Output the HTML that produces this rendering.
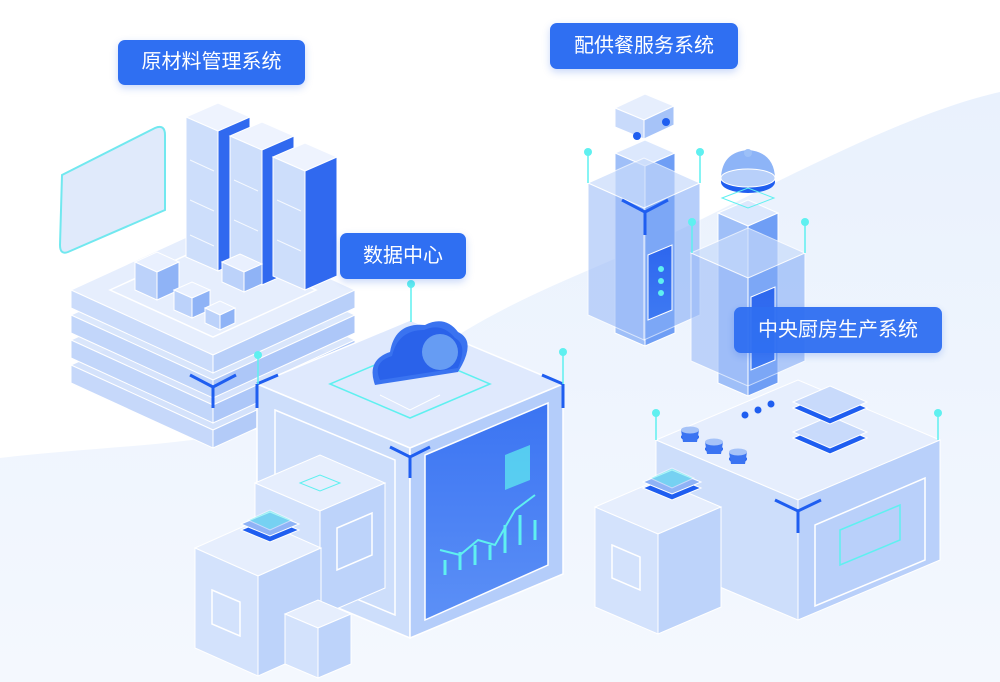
<!DOCTYPE html>
<html><head><meta charset="utf-8"><style>
html,body{margin:0;padding:0;background:#fff;}
.lbl{position:absolute;background:#2f6ff2;color:#fff;border-radius:7px;font-family:"Liberation Sans","Noto Sans CJK SC",sans-serif;font-size:20px;text-align:center;box-shadow:0 3px 8px rgba(40,100,230,.25);}
</style></head><body>
<div style="position:relative;width:1000px;height:682px;overflow:hidden;">
<svg width="1000" height="682" viewBox="0 0 1000 682" style="position:absolute;left:0;top:0">
<defs>
<linearGradient id="bg" x1="0" y1="0" x2="0" y2="1"><stop offset="0" stop-color="#e9f1fd"/><stop offset="1" stop-color="#f4f8fe"/></linearGradient>
<linearGradient id="pan" x1="0" y1="0" x2="0" y2="1"><stop offset="0" stop-color="#3b74f2"/><stop offset="1" stop-color="#5c90f6"/></linearGradient>
<linearGradient id="dk" x1="0" y1="0" x2="0" y2="1"><stop offset="0" stop-color="#2d66ee"/><stop offset="1" stop-color="#3e7af3"/></linearGradient>
</defs>
<path d="M0,458 C150,440 300,450 420,360 C520,290 600,270 700,220 C820,160 920,110 1000,92 L1000,682 L0,682 Z" fill="url(#bg)"/>

<path d="M62,175 L155,128 Q165,124 165,135 L165,210 L68,252 Q60,255 60,245 Z" fill="#dde8fb" stroke="#62e6ee" stroke-width="2" opacity=".9"/>

<g stroke="#fff" stroke-width="1">
<polygon points="71,365 213,300 355,365 213,430" fill="#d4e2fb"/><polygon points="71,365 213,430 213,448 71,383" fill="#c6d8fa"/><polygon points="213,430 355,365 355,383 213,448" fill="#b3cbf8"/>
<polygon points="71,340 213,275 355,340 213,405" fill="#d7e4fb" opacity=".9"/><polygon points="71,340 213,405 213,423 71,358" fill="#c2d6fa"/><polygon points="213,405 355,340 355,358 213,423" fill="#adc7f8"/>
<polygon points="71,315 213,250 355,315 213,380" fill="#d9e6fc" opacity=".9"/><polygon points="71,315 213,380 213,398 71,333" fill="#c2d6fa"/><polygon points="213,380 355,315 355,333 213,398" fill="#adc7f8"/>
<polygon points="71,290 213,225 355,290 213,355" fill="#e6eefd"/><polygon points="71,290 213,355 213,373 71,308" fill="#cbdcfb"/><polygon points="213,355 355,290 355,308 213,373" fill="#b8cff9"/>
</g>
<polygon points="110,290 213,243 316,290 213,337" fill="none" stroke="#fff" stroke-width="1.5"/>
<g stroke="#fff" stroke-width="1">
<polygon points="186,117 218,103 250,117 218,131" fill="#eef3fe"/><polygon points="186,117 218,131 218,271 186,257" fill="#cddefb"/><polygon points="218,131 250,117 250,257 218,271" fill="#3069ef"/>
<polygon points="230,136 262,122 294,136 262,150" fill="#eef3fe"/><polygon points="230,136 262,150 262,285 230,271" fill="#cddefb"/><polygon points="262,150 294,136 294,271 262,285" fill="#3069ef"/>
<polygon points="273,157 305,143 337,157 305,171" fill="#eef3fe"/><polygon points="273,157 305,171 305,290 273,276" fill="#cddefb"/><polygon points="305,171 337,157 337,276 305,290" fill="#3069ef"/>
</g>
<g stroke="#fff" fill="none" opacity=".8"><path d="M190,160 L214,171 M190,200 L214,211 M190,235 L214,246 M234,180 L258,191 M234,220 L258,231 M277,200 L301,211 M277,240 L301,251"/></g>
<g stroke="#fff">
<polygon points="135,262 157,252 179,262 157,272" fill="#e9f0fe"/><polygon points="135,262 157,272 157,300 135,290" fill="#bcd2fa"/><polygon points="157,272 179,262 179,290 157,300" fill="#8fb3f6"/>
<polygon points="174,290 192,282 210,290 192,298" fill="#e9f0fe"/><polygon points="174,290 192,298 192,318 174,310" fill="#bcd2fa"/><polygon points="192,298 210,290 210,310 192,318" fill="#8fb3f6"/>
<polygon points="205,308 220,301 235,308 220,315" fill="#e9f0fe"/><polygon points="205,308 220,315 220,330 205,323" fill="#bcd2fa"/><polygon points="220,315 235,308 235,323 220,330" fill="#8fb3f6"/>
<polygon points="222,262 240,254 262,264 244,272" fill="#e9f0fe"/><polygon points="222,262 244,272 244,292 222,282" fill="#bcd2fa"/><polygon points="244,272 262,264 262,284 244,292" fill="#8fb3f6"/>
</g>
<path d="M190,375 L213,387 L236,375 M213,387 L213,408" stroke="#1f5ef0" stroke-width="3" fill="none"/>

<g stroke="#fff" stroke-width="1">
<polygon points="615,153 645,140 675,153 645,166" fill="#dce8fd"/><polygon points="615,153 645,166 645,346 615,333" fill="#9fbff8"/><polygon points="645,166 675,153 675,333 645,346" fill="#6f9ef5"/>
<polygon points="588,183 644,158 700,183 644,208" fill="#c8dbfb" opacity=".7"/><polygon points="588,183 644,208 644,340 588,315" fill="#9ebdf8" opacity=".6"/><polygon points="644,208 700,183 700,315 644,340" fill="#86aef7" opacity=".6"/>
<polygon points="648,255 672,245 672,310 648,320" fill="url(#dk)"/>
<polygon points="718,213 748,200 778,213 748,226" fill="#dce8fd"/><polygon points="718,213 748,226 748,396 718,383" fill="#9fbff8"/><polygon points="748,226 778,213 778,383 748,396" fill="#6f9ef5"/>
<polygon points="691,253 748,228 805,253 748,278" fill="#c8dbfb" opacity=".7"/><polygon points="691,253 748,278 748,386 691,361" fill="#9ebdf8" opacity=".6"/><polygon points="748,278 805,253 805,361 748,386" fill="#86aef7" opacity=".6"/>
<polygon points="751,297 775,287 775,360 751,370" fill="url(#dk)"/>
</g>
<circle cx="661" cy="269" r="3" fill="#5ff0f0"/><circle cx="661" cy="281" r="3" fill="#5ff0f0"/><circle cx="661" cy="293" r="3" fill="#5ff0f0"/>
<path d="M622,200 L645,212 L668,200 M645,212 L645,235" stroke="#1f5ef0" stroke-width="3" fill="none"/>
<g stroke="#fff"><polygon points="615,108 645,94 674,106 644,120" fill="#e6eefd"/><polygon points="615,108 644,120 644,139 615,127" fill="#c8dafb"/><polygon points="644,120 674,106 674,125 644,139" fill="#a6c3f8"/></g>
<circle cx="637" cy="136" r="4" fill="#1f5ef0"/><circle cx="666" cy="122" r="4" fill="#1f5ef0"/>
<ellipse cx="748" cy="182" rx="27" ry="11" fill="#1f5ef0"/><path d="M721,178 Q722,152 748,150 Q774,152 775,178 Z" fill="#8db4f7"/><ellipse cx="748" cy="178" rx="27" ry="9" fill="#b8d0fa" stroke="#fff"/><circle cx="748" cy="153" r="4" fill="#9cc0f8"/>
<polygon points="722,198 748,188 774,198 748,208" fill="none" stroke="#5ff0f0"/>

<g stroke="#fff" stroke-width="1">
<polygon points="656,440 798,380 940,440 798,500" fill="#e6eefd"/><polygon points="656,440 798,500 798,620 656,560" fill="#cddefb"/><polygon points="798,500 940,440 940,560 798,620" fill="#b9d0fa"/>
</g>
<polygon points="815,525 925,478 925,560 815,606" fill="none" stroke="#fff" stroke-width="1.5"/>
<polygon points="840,530 900,505 900,540 840,565" fill="none" stroke="#5ff0f0" stroke-width="1.5"/>
<path d="M775,500 L798,511 L821,500 M798,511 L798,533" stroke="#1f5ef0" stroke-width="3" fill="none"/>
<g fill="#1f5ef0"><circle cx="745" cy="415" r="3.5"/><circle cx="758" cy="410" r="3.5"/><circle cx="771" cy="404" r="3.5"/></g>
<g><ellipse cx="690" cy="437" rx="9" ry="4" fill="#1f5ef0"/><path d="M681,430 L699,430 L697,442 L683,442Z" fill="#3b74f2"/><ellipse cx="690" cy="430" rx="9" ry="3.5" fill="#a6c3f8"/>
<ellipse cx="714" cy="449" rx="9" ry="4" fill="#1f5ef0"/><path d="M705,442 L723,442 L721,454 L707,454Z" fill="#3b74f2"/><ellipse cx="714" cy="442" rx="9" ry="3.5" fill="#a6c3f8"/>
<ellipse cx="738" cy="459" rx="9" ry="4" fill="#1f5ef0"/><path d="M729,452 L747,452 L745,464 L731,464Z" fill="#3b74f2"/><ellipse cx="738" cy="452" rx="9" ry="3.5" fill="#a6c3f8"/></g>
<g stroke="#fff"><polygon points="793,438 830,422 867,438 830,454" fill="#1f5ef0"/><polygon points="793,432 830,416 867,432 830,448" fill="#c8dafb"/>
<polygon points="793,408 830,392 867,408 830,424" fill="#1f5ef0"/><polygon points="793,402 830,386 867,402 830,418" fill="#c8dafb"/></g>
<g stroke="#fff"><polygon points="595,507 658,480 721,507 658,534" fill="#e6eefd"/><polygon points="595,507 658,534 658,634 595,607" fill="#d3e2fc"/><polygon points="658,534 721,507 721,607 658,634" fill="#bdd3fa"/></g>
<polygon points="612,545 640,557 640,590 612,578" fill="none" stroke="#fff" stroke-width="1.5"/>
<g stroke="#fff"><polygon points="643,488 672,476 701,488 672,500" fill="#1f5ef0"/><polygon points="643,482 672,470 701,482 672,494" fill="#8fb3f6"/><polygon points="650,478 672,468 694,478 672,488" fill="#5ff0f0" opacity=".5"/></g>

<!-- main cube -->
<g stroke="#fff" stroke-width="1.5">
<polygon points="257,384 410,320 563,384 410,448" fill="#dfe9fd"/><polygon points="257,384 410,448 410,638 257,574" fill="#cddefb"/><polygon points="410,448 563,384 563,574 410,638" fill="#b4cdfa"/>
</g>
<polygon points="275,410 395,460 395,615 275,565" fill="none" stroke="#fff" stroke-width="1.5"/>
<polygon points="425,455 548,403 548,565 425,620" fill="url(#pan)" stroke="#fff" stroke-width="1.5"/>
<polyline points="440,550 460,555 478,540 495,545 515,510 535,495" fill="none" stroke="#5ff0f0" stroke-width="2"/>
<g stroke="#5ff0f0" stroke-width="3"><path d="M445,575 L445,560 M460,570 L460,552 M475,565 L475,545 M490,560 L490,545 M505,553 L505,525 M520,545 L520,515 M535,540 L535,520"/></g>
<polygon points="505,455 530,445 530,480 505,490" fill="#5ff0f0" opacity=".7"/>
<polygon points="330,384 410,350 490,384 410,418" fill="none" stroke="#5ff0f0" stroke-width="1.5"/>
<path d="M380,395 L410,410 L440,395" stroke="#fff" fill="none"/>
<path d="M390,447 L410,457 L430,447 M410,457 L410,478" stroke="#1f5ef0" stroke-width="3" fill="none"/>
<path d="M257,384 L257,408 M257,384 L278,375 M563,384 L563,408 M563,384 L542,375" stroke="#1f5ef0" stroke-width="3" fill="none"/>
<g><path d="M375,385 Q366,360 390,352 Q395,322 425,325 Q445,315 458,332 Q475,340 462,365 L458,372 Z" fill="#3a73f0"/>
<path d="M380,380 Q372,362 392,356 Q398,330 424,330 Q442,322 455,338 Q468,345 458,368 Z" fill="#2a62ea"/>
<circle cx="440" cy="352" r="18" fill="#80b5f7" opacity=".7"/></g>

<!-- cube in front of main cube -->
<g stroke="#fff"><polygon points="255,483 320,455 385,483 320,511" fill="#e6eefd"/><polygon points="255,483 320,511 320,616 255,588" fill="#d3e2fc"/><polygon points="320,511 385,483 385,588 320,616" fill="#bdd3fa"/></g>
<polygon points="300,483 320,475 340,483 320,491" fill="none" stroke="#5ff0f0"/>
<polygon points="337,528 372,513 372,555 337,570" fill="none" stroke="#fff" stroke-width="1.5"/>

<g stroke="#fff"><polygon points="195,548 258,520 321,548 258,576" fill="#e6eefd"/><polygon points="195,548 258,576 258,676 195,648" fill="#d3e2fc"/><polygon points="258,576 321,548 321,648 258,676" fill="#bdd3fa"/></g>
<polygon points="212,590 240,602 240,636 212,624" fill="none" stroke="#fff" stroke-width="1.5"/>
<g stroke="#fff"><polygon points="241,530 270,518 299,530 270,542" fill="#1f5ef0"/><polygon points="241,524 270,512 299,524 270,536" fill="#8fb3f6"/><polygon points="248,520 270,510 292,520 270,530" fill="#5ff0f0" opacity=".5"/></g>
<g stroke="#fff"><polygon points="285,614 318,600 351,614 318,628" fill="#e6eefd"/><polygon points="285,614 318,628 318,678 285,664" fill="#d3e2fc"/><polygon points="318,628 351,614 351,664 318,678" fill="#bdd3fa"/></g>

<g stroke="#5ff0f0" stroke-width="1.5"><path d="M258,355 V384 M563,352 V384 M411,284 V322 M588,152 V183 M700,152 V183 M692,222 V253 M805,222 V253 M656,413 V440 M938,413 V440"/></g>
<g fill="#5ff0f0"><circle cx="258" cy="355" r="4"/><circle cx="563" cy="352" r="4"/><circle cx="411" cy="284" r="4"/><circle cx="588" cy="152" r="4"/><circle cx="700" cy="152" r="4"/><circle cx="692" cy="222" r="4"/><circle cx="805" cy="222" r="4"/><circle cx="656" cy="413" r="4"/><circle cx="938" cy="413" r="4"/></g>
</svg>
<div class="lbl" style="left:118px;top:40px;width:187px;height:45px;line-height:45px;">原材料管理系统</div>
<div class="lbl" style="left:550px;top:23px;width:188px;height:46px;line-height:46px;">配供餐服务系统</div>
<div class="lbl" style="left:340px;top:233px;width:126px;height:46px;line-height:46px;">数据中心</div>
<div class="lbl" style="left:734px;top:307px;width:208px;height:46px;line-height:46px;opacity:.95;">中央厨房生产系统</div>
</div>
</body></html>
